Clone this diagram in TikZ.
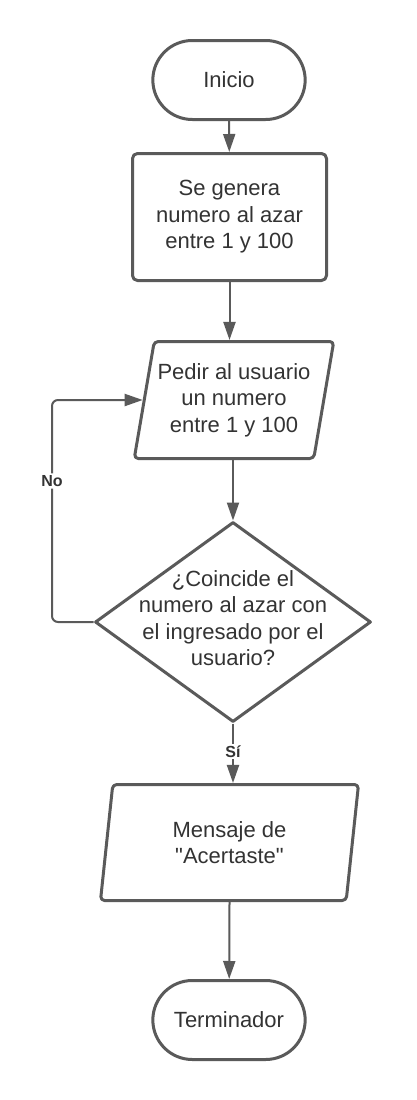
\documentclass[tikz,border=0pt]{standalone}
\usepackage{fontspec}
\setmainfont{Liberation Sans}[Ligatures=TeXOff]
\usetikzlibrary{shapes.geometric,shapes.misc,arrows.meta}
\definecolor{linec}{HTML}{5A5A5A}
\definecolor{txtc}{HTML}{333333}
\tikzset{
 base/.style={draw=linec, line width=3pt, line join=round, text=txtc, font=\fontsize{22}{26.5}\selectfont, align=center, fill=white},
 termbox/.style={base, rounded rectangle, minimum width=159pt, minimum height=79pt},
 procbox/.style={base, rectangle, rounded corners=5pt, minimum width=194pt, minimum height=127pt},
 iobox/.style={base, trapezium, trapezium left angle=76, trapezium right angle=104, trapezium stretches body, rounded corners=4pt},
 decbox/.style={base, diamond, minimum width=276pt, minimum height=200pt, inner sep=0pt},
 plaintext/.style={text=txtc, font=\fontsize{22}{26.5}\selectfont, align=center, inner sep=0pt},
 conn/.style={draw=linec, line width=2pt, line join=round, -{Triangle[length=18pt,width=12pt]}},
 lbl/.style={fill=white, text=txtc, font=\fontsize{16}{18}\selectfont\bfseries, inner sep=2pt}
}
\begin{document}
\begin{tikzpicture}[x=1pt,y=-1pt]
\useasboundingbox[fill=white] (0,0) rectangle (416,1100);
\node[termbox] (ini) at (229,80) {Inicio};
\node[procbox] (gen) at (229.5,217) {Se genera\\numero al azar\\entre 1 y 100};
\node[iobox, minimum width=195pt, minimum height=117pt] (p1) at (234,400) {Pedir al usuario\\un numero\\entre 1 y 100};
\node[decbox] (dec) at (233,622) {};
\node[plaintext] (dect) at (233,618) {¿Coincide el\\numero al azar con\\el ingresado por el\\usuario?};
\node[iobox, minimum width=258pt, minimum height=116pt] (p2) at (229.5,842.5) {Mensaje de\\"Acertaste"};
\node[termbox] (fin) at (229,1020) {Terminador};
\coordinate (nox) at (52,0);
\draw[conn] (ini) -- (gen);
\draw[conn] (gen.south) -- (gen.south |- p1.north);
\draw[conn] (dec.north |- p1.south) -- (dec.north);
\draw[conn] (dec.south) -- node[lbl, pos=0.47] {Sí} (dec.south |- p2.north);
\draw[conn] (p2.south) -- (fin);
\draw[conn, rounded corners=6pt] (dec.west) -- (dec.west -| nox) -- node[lbl, pos=0.635] {No} (nox |- p1.left side) -- (p1.left side);
\end{tikzpicture}
\end{document}
